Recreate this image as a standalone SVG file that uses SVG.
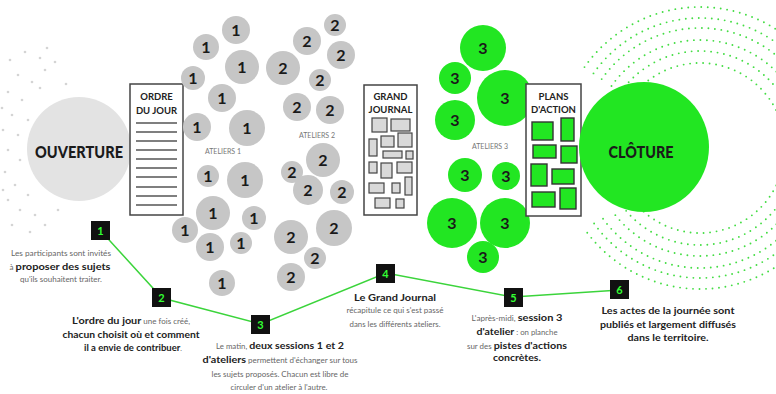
<svg xmlns="http://www.w3.org/2000/svg" width="776" height="394" viewBox="0 0 776 394">
<style>
text{font-family:Lato,"Liberation Sans",sans-serif}
.g1{fill:#c6c6c6}
.g3{fill:#22e622}
.num{font-weight:bold;font-size:16px;fill:#1a1a1a;text-anchor:middle}
.box{fill:#fff;stroke:#444;stroke-width:1.5}
.ttl{font-weight:bold;font-size:9.5px;fill:#222;text-anchor:middle}
.ln{stroke:#555;stroke-width:1.3}
.jr{fill:#d9d9d9;stroke:#444;stroke-width:1.2}
.pa{fill:#22e622;stroke:#333;stroke-width:1.4}
.ring{fill:none;stroke:#44dd44;stroke-width:1.9;stroke-dasharray:0 6.5;stroke-linecap:round}
.dot{fill:#d4d4d4}
.sq{fill:#111}
.sn{font-weight:bold;font-size:11px;fill:#33ff33;text-anchor:middle}
.d{text-anchor:middle;fill:#222}
.b{font-weight:bold;font-size:9.5px;fill:#222}
.s{font-weight:normal;font-size:7px;fill:#666}
.lab{font-size:7px;fill:#777;text-anchor:middle}
.big{font-weight:900;fill:#1a1a1a;text-anchor:middle}
.conn{fill:none;stroke:#3bd43b;stroke-width:1.5}
</style>

<g id="scatter">
<circle class="dot" cx="10" cy="60" r="1.3"/><circle class="dot" cx="25" cy="52" r="1.3"/><circle class="dot" cx="40" cy="58" r="1.3"/>
<circle class="dot" cx="18" cy="75" r="1.3"/><circle class="dot" cx="32" cy="82" r="1.3"/><circle class="dot" cx="8" cy="92" r="1.3"/>
<circle class="dot" cx="45" cy="70" r="1.3"/><circle class="dot" cx="22" cy="100" r="1.3"/><circle class="dot" cx="12" cy="115" r="1.3"/>
<circle class="dot" cx="3" cy="130" r="1.3"/><circle class="dot" cx="18" cy="135" r="1.3"/><circle class="dot" cx="8" cy="150" r="1.3"/>
<circle class="dot" cx="20" cy="160" r="1.3"/><circle class="dot" cx="5" cy="172" r="1.3"/><circle class="dot" cx="15" cy="185" r="1.3"/>
<circle class="dot" cx="28" cy="195" r="1.3"/><circle class="dot" cx="8" cy="200" r="1.3"/><circle class="dot" cx="20" cy="210" r="1.3"/>
<circle class="dot" cx="35" cy="215" r="1.3"/><circle class="dot" cx="45" cy="225" r="1.3"/><circle class="dot" cx="12" cy="225" r="1.3"/>
<circle class="dot" cx="55" cy="62" r="1.3"/><circle class="dot" cx="66" cy="84" r="1.3"/><circle class="dot" cx="40" cy="88" r="1.3"/>
<circle class="dot" cx="28" cy="120" r="1.3"/><circle class="dot" cx="2" cy="108" r="1.3"/><circle class="dot" cx="3" cy="190" r="1.3"/>
<circle class="dot" cx="30" cy="232" r="1.3"/><circle class="dot" cx="58" cy="210" r="1.3"/><circle class="dot" cx="47" cy="48" r="1.3"/>
</g>

<g id="rings">
<path class="ring" d="M630.4 99.2 A85 85 0 1 1 630.4 196.8"/>
<path class="ring" d="M620.6 92.3 A97 97 0 1 1 620.6 203.7"/>
<path class="ring" d="M611.5 86 A108 108 0 1 1 611.5 210"/>
<path class="ring" d="M601.7 79.1 A120 120 0 1 1 601.7 216.9"/>
<path class="ring" d="M593.5 73.4 A130 130 0 1 1 593.5 222.6"/>
<path class="ring" d="M584.5 67.1 A141 141 0 1 1 584.5 228.9"/>
</g>

<g id="ouverture">
<circle cx="79" cy="149" r="52" fill="#e3e3e3"/>
<text class="big" x="79" y="158" font-size="17" textLength="88" lengthAdjust="spacingAndGlyphs">OUVERTURE</text>
</g>

<g id="ordre-du-jour">
<rect class="box" x="130" y="84" width="53" height="131"/>
<text class="ttl" x="156.5" y="100">ORDRE</text>
<text class="ttl" x="156.5" y="114">DU JOUR</text>
<path class="ln" d="M136 123H177M136 132H177M136 141H177M136 150H177M136 159H177M136 168H177M136 177H177M136 187H177M136 196H177M136 205H177"/>
</g>

<g id="ateliers-1">
<g class="g1">
<circle cx="236" cy="30" r="14"/><circle cx="206" cy="47" r="13"/><circle cx="242" cy="67" r="17"/><circle cx="193" cy="78" r="12"/>
<circle cx="222" cy="98" r="14"/><circle cx="197" cy="127" r="14"/><circle cx="247" cy="128" r="18"/><circle cx="208" cy="176" r="11"/>
<circle cx="245" cy="180" r="18"/><circle cx="213" cy="213" r="17"/><circle cx="254" cy="218" r="12"/><circle cx="185" cy="230" r="13"/>
<circle cx="210" cy="247" r="14"/><circle cx="241" cy="243" r="11"/><circle cx="222" cy="283" r="13"/>
</g>
<g class="num">
<text x="236" y="36">1</text><text x="206" y="53">1</text><text x="242" y="73">1</text><text x="193" y="84">1</text>
<text x="222" y="104">1</text><text x="197" y="133">1</text><text x="247" y="134">1</text><text x="208" y="182">1</text>
<text x="245" y="186">1</text><text x="213" y="219">1</text><text x="254" y="224">1</text><text x="185" y="236">1</text>
<text x="210" y="253">1</text><text x="241" y="249">1</text><text x="222" y="289">1</text>
</g>
<text class="lab" x="223" y="154">ATELIERS 1</text>
</g>

<g id="ateliers-2">
<g class="g1">
<circle cx="335" cy="25" r="11"/><circle cx="307" cy="41" r="14"/><circle cx="341" cy="55" r="14"/><circle cx="283" cy="68" r="17"/>
<circle cx="320" cy="80" r="11"/><circle cx="297" cy="107" r="14"/><circle cx="330" cy="110" r="14"/><circle cx="323" cy="160" r="17"/>
<circle cx="292" cy="172" r="11"/><circle cx="342" cy="192" r="12"/><circle cx="308" cy="190" r="15"/><circle cx="291" cy="237" r="17"/>
<circle cx="334" cy="228" r="18"/><circle cx="315" cy="258" r="11"/><circle cx="291" cy="277" r="14"/>
</g>
<g class="num">
<text x="335" y="31">2</text><text x="307" y="47">2</text><text x="341" y="61">2</text><text x="283" y="74">2</text>
<text x="320" y="86">2</text><text x="297" y="113">2</text><text x="330" y="116">2</text><text x="323" y="166">2</text>
<text x="292" y="178">2</text><text x="342" y="198">2</text><text x="308" y="196">2</text><text x="291" y="243">2</text>
<text x="334" y="234">2</text><text x="315" y="264">2</text><text x="291" y="283">2</text>
</g>
<text class="lab" x="317" y="138">ATELIERS 2</text>
</g>

<g id="grand-journal">
<rect class="box" x="364" y="85" width="53" height="130"/>
<text class="ttl" x="390.5" y="100">GRAND</text>
<text class="ttl" x="390.5" y="113">JOURNAL</text>
<rect class="jr" x="372" y="118" width="15" height="14"/><rect class="jr" x="391" y="119" width="19" height="12"/>
<rect class="jr" x="369" y="139" width="8" height="17"/><rect class="jr" x="381" y="136" width="13" height="11"/>
<rect class="jr" x="398" y="133" width="14" height="14"/><rect class="jr" x="383" y="151" width="19" height="7"/>
<rect class="jr" x="406" y="151" width="7" height="8"/><rect class="jr" x="369" y="162" width="8" height="11"/>
<rect class="jr" x="381" y="163" width="11" height="15"/><rect class="jr" x="397" y="162" width="15" height="11"/>
<rect class="jr" x="369" y="183" width="15" height="10"/><rect class="jr" x="392" y="183" width="8" height="10"/>
<rect class="jr" x="405" y="177" width="7" height="18"/><rect class="jr" x="375" y="198" width="15" height="10"/>
<rect class="jr" x="396" y="199" width="8" height="9"/>
</g>

<g id="ateliers-3">
<g class="g3">
<circle cx="483" cy="48" r="23"/><circle cx="455" cy="78" r="16"/><circle cx="505" cy="98" r="28"/><circle cx="455" cy="120" r="20"/>
<circle cx="465" cy="175" r="17"/><circle cx="506" cy="176" r="14"/><circle cx="452" cy="223" r="25"/><circle cx="505" cy="223" r="25"/>
<circle cx="483" cy="257" r="16"/>
</g>
<g class="num">
<text x="483" y="54">3</text><text x="455" y="84">3</text><text x="505" y="104">3</text><text x="455" y="126">3</text>
<text x="465" y="181">3</text><text x="506" y="182">3</text><text x="452" y="229">3</text><text x="505" y="229">3</text>
<text x="483" y="263">3</text>
</g>
<text class="lab" x="490" y="149">ATELIERS 3</text>
</g>

<g id="plans-action">
<rect class="box" x="526" y="84" width="55" height="132"/>
<text class="ttl" x="553.5" y="100">PLANS</text>
<text class="ttl" x="553.5" y="113">D'ACTION</text>
<rect class="pa" x="532" y="122" width="21" height="18"/><rect class="pa" x="561" y="118" width="13" height="23"/>
<rect class="pa" x="533" y="145" width="23" height="13"/><rect class="pa" x="561" y="146" width="16" height="17"/>
<rect class="pa" x="531" y="164" width="16" height="22"/><rect class="pa" x="552" y="169" width="22" height="15"/>
<rect class="pa" x="532" y="192" width="23" height="15"/><rect class="pa" x="560" y="188" width="16" height="21"/>
</g>

<g id="cloture">
<circle cx="644" cy="147" r="65" fill="#22e622"/>
<text class="big" x="641" y="158" font-size="16" textLength="65" lengthAdjust="spacingAndGlyphs">CLÔTURE</text>
</g>

<g id="connectors">
<polyline class="conn" points="100,230 162,298 261,324 386,273 513,297 620,290"/>
</g>

<g id="step-1">
<rect class="sq" x="91" y="221" width="19" height="19"/><text class="sn" x="100.5" y="234.5">1</text>
<text class="d" x="61" y="256" textLength="100" lengthAdjust="spacingAndGlyphs"><tspan class="s">Les participants sont invités</tspan></text>
<text class="d" x="60" y="270" textLength="101" lengthAdjust="spacingAndGlyphs"><tspan class="s">à </tspan><tspan class="b">proposer des sujets</tspan></text>
<text class="d" x="61" y="282" textLength="82" lengthAdjust="spacingAndGlyphs"><tspan class="s">qu'ils souhaitent traiter.</tspan></text>
</g>

<g id="step-2">
<rect class="sq" x="152" y="288" width="19" height="19"/><text class="sn" x="161.5" y="301.5">2</text>
<text class="d" x="131" y="324" textLength="118" lengthAdjust="spacingAndGlyphs"><tspan class="b">L'ordre du jour</tspan><tspan class="s"> une fois créé,</tspan></text>
<text class="d" x="131" y="338" textLength="137" lengthAdjust="spacingAndGlyphs"><tspan class="b">chacun choisit où et comment</tspan></text>
<text class="d" x="133" y="351" textLength="98" lengthAdjust="spacingAndGlyphs"><tspan class="b">il a envie de contribuer</tspan><tspan class="s">.</tspan></text>
</g>

<g id="step-3">
<rect class="sq" x="251" y="315" width="19" height="19"/><text class="sn" x="260.5" y="328.5">3</text>
<text class="d" x="280" y="349" textLength="128" lengthAdjust="spacingAndGlyphs"><tspan class="s">Le matin, </tspan><tspan class="b">deux sessions 1 et 2</tspan></text>
<text class="d" x="280" y="363" textLength="155" lengthAdjust="spacingAndGlyphs"><tspan class="b">d'ateliers</tspan><tspan class="s"> permettent d'échanger sur tous</tspan></text>
<text class="d" x="280" y="377" textLength="137" lengthAdjust="spacingAndGlyphs"><tspan class="s">les sujets proposés. Chacun est libre de</tspan></text>
<text class="d" x="279" y="390" textLength="97" lengthAdjust="spacingAndGlyphs"><tspan class="s">circuler d'un atelier à l'autre.</tspan></text>
</g>

<g id="step-4">
<rect class="sq" x="376" y="264" width="19" height="19"/><text class="sn" x="385.5" y="277.5">4</text>
<text class="d" x="395" y="301" textLength="82" lengthAdjust="spacingAndGlyphs"><tspan class="b">Le Grand Journal</tspan></text>
<text class="d" x="395" y="313" textLength="97" lengthAdjust="spacingAndGlyphs"><tspan class="s">récapitule ce qui s'est passé</tspan></text>
<text class="d" x="395" y="327" textLength="91" lengthAdjust="spacingAndGlyphs"><tspan class="s">dans les différents ateliers.</tspan></text>
</g>

<g id="step-5">
<rect class="sq" x="504" y="288" width="19" height="19"/><text class="sn" x="513.5" y="301.5">5</text>
<text class="d" x="517" y="321" textLength="91" lengthAdjust="spacingAndGlyphs"><tspan class="s">L'après-midi, </tspan><tspan class="b">session 3</tspan></text>
<text class="d" x="517" y="335" textLength="81" lengthAdjust="spacingAndGlyphs"><tspan class="b">d'atelier</tspan><tspan class="s"> : on planche</tspan></text>
<text class="d" x="517" y="349" textLength="100" lengthAdjust="spacingAndGlyphs"><tspan class="s">sur des </tspan><tspan class="b">pistes d'actions</tspan></text>
<text class="d" x="517" y="361" textLength="48" lengthAdjust="spacingAndGlyphs"><tspan class="b">concrètes.</tspan></text>
</g>

<g id="step-6">
<rect class="sq" x="610" y="280" width="19" height="19"/><text class="sn" x="619.5" y="293.5">6</text>
<text class="d" x="668" y="314" textLength="133" lengthAdjust="spacingAndGlyphs"><tspan class="b">Les actes de la journée sont</tspan></text>
<text class="d" x="668" y="328" textLength="136" lengthAdjust="spacingAndGlyphs"><tspan class="b">publiés et largement diffusés</tspan></text>
<text class="d" x="668" y="341" textLength="81" lengthAdjust="spacingAndGlyphs"><tspan class="b">dans le territoire.</tspan></text>
</g>
</svg>
